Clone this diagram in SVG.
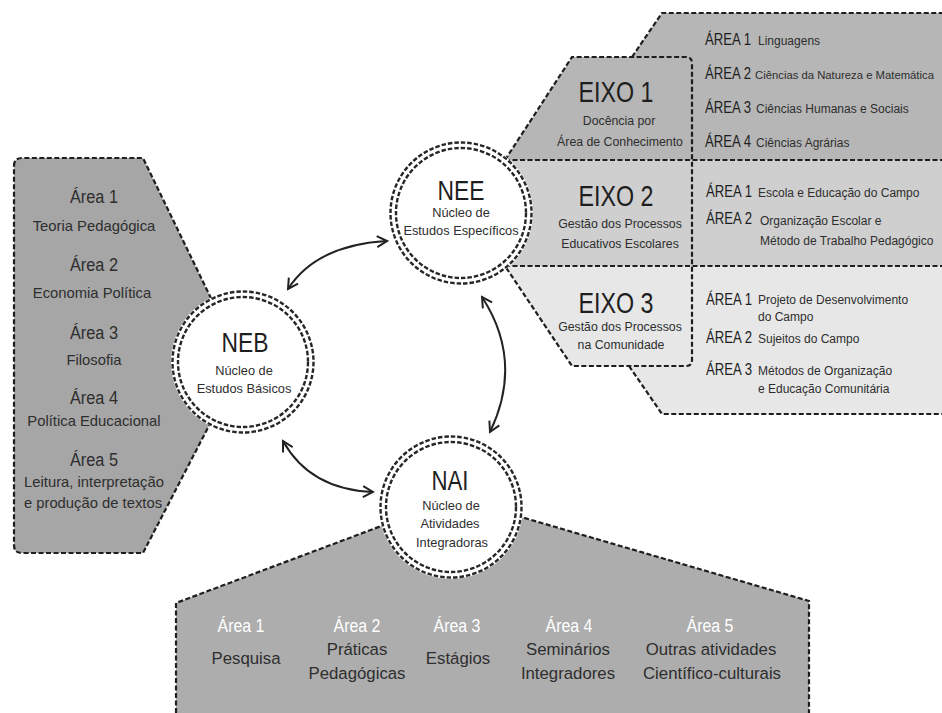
<svg xmlns="http://www.w3.org/2000/svg" width="942" height="713" viewBox="0 0 942 713">
<defs>
<style>
.dash{fill:none;stroke:#1e1e1e;stroke-width:2.2;stroke-dasharray:5 2.5}
.ring{fill:none;stroke:#262626;stroke-width:2.4;stroke-dasharray:4.5 2}
text{font-family:'Liberation Sans',Arial,sans-serif;fill:#2e2e2e}
.t{text-anchor:middle}
.h{font-size:18px}
.s{font-size:14.8px}
.bt{font-size:28px;fill:#1e1e1e}
.bs{font-size:12.8px}
.ex{font-size:30px;fill:#1e1e1e}
.es{font-size:12.3px}
.ar{font-size:16px;fill:#1e1e1e}
.ds{font-size:12px}
.w{fill:#ffffff}
.b{font-size:16.8px}
.arrow{fill:none;stroke:#222;stroke-width:2}
</style>
<marker id="ah" viewBox="0 0 14 14" refX="12" refY="7" markerWidth="14" markerHeight="14" markerUnits="userSpaceOnUse" orient="auto-start-reverse"><path d="M2,1.5 L12,7 L2,12.5" fill="none" stroke="#222" stroke-width="2"/></marker>
</defs>
<rect width="942" height="713" fill="#ffffff"/>

<g id="panel-neb">
<path d="M14,166 Q14,158 22,158 L143,158 L242,362 L143,553 L22,553 Q14,553 14,545 Z" fill="#a6a6a6"/>
<path class="dash" d="M14,166 Q14,158 22,158 L143,158 L242,362 L143,553 L22,553 Q14,553 14,545 Z"/>
<text class="t h" x="94" y="203" textLength="48" lengthAdjust="spacingAndGlyphs">Área 1</text>
<text class="t s" x="94" y="231">Teoria Pedagógica</text>
<text class="t h" x="94" y="271" textLength="48" lengthAdjust="spacingAndGlyphs">Área 2</text>
<text class="t s" x="92" y="298">Economia Política</text>
<text class="t h" x="94" y="339" textLength="48" lengthAdjust="spacingAndGlyphs">Área 3</text>
<text class="t s" x="94" y="365">Filosofia</text>
<text class="t h" x="94" y="404" textLength="48" lengthAdjust="spacingAndGlyphs">Área 4</text>
<text class="t s" x="94" y="426">Política Educacional</text>
<text class="t h" x="94" y="466" textLength="48" lengthAdjust="spacingAndGlyphs">Área 5</text>
<text class="t s" x="94" y="487">Leitura, interpretação</text>
<text class="t s" x="93" y="508">e produção de textos</text>
</g>

<g id="panel-nee">
<path d="M505,160 L572,57 L632,57 L662,13 L942,13 L942,160 Z" fill="#b6b6b6"/>
<rect x="470" y="160" width="472" height="106" fill="#cfcfcf"/>
<path d="M505,266 L942,266 L942,414 L662,414 L629,366 L572,366 Z" fill="#e7e7e7"/>
<path class="dash" d="M632,57 L662,13 L942,13"/>
<path class="dash" d="M505,160 L942,160"/>
<path class="dash" d="M505,266 L942,266"/>
<path class="dash" d="M629,366 L662,414 L942,414"/>
<path class="dash" d="M505,160 L572,57 L686,57 Q692,57 692,63 L692,360 Q692,366 686,366 L572,366 L505,266"/>

<text class="t ex" x="616" y="102" textLength="75" lengthAdjust="spacingAndGlyphs">EIXO 1</text>
<text class="t es" x="619" y="125">Docência por</text>
<text class="t es" x="620" y="146">Área de Conhecimento</text>
<text class="t ex" x="616" y="206" textLength="75" lengthAdjust="spacingAndGlyphs">EIXO 2</text>
<text class="t es" x="620" y="228">Gestão dos Processos</text>
<text class="t es" x="620" y="248">Educativos Escolares</text>
<text class="t ex" x="616" y="313" textLength="75" lengthAdjust="spacingAndGlyphs">EIXO 3</text>
<text class="t es" x="620" y="331">Gestão dos Processos</text>
<text class="t es" x="621" y="349">na Comunidade</text>

<text class="ar" x="705" y="45" textLength="46" lengthAdjust="spacingAndGlyphs">ÁREA 1</text>
<text class="ds" x="758" y="45">Linguagens</text>
<text class="ar" x="705" y="79" textLength="46" lengthAdjust="spacingAndGlyphs">ÁREA 2</text>
<text x="755" y="79" style="font-size:11.3px">Ciências da Natureza e Matemática</text>
<text class="ar" x="705" y="113" textLength="46" lengthAdjust="spacingAndGlyphs">ÁREA 3</text>
<text class="ds" x="756" y="113">Ciências Humanas e Sociais</text>
<text class="ar" x="705" y="147" textLength="46" lengthAdjust="spacingAndGlyphs">ÁREA 4</text>
<text class="ds" x="756" y="147">Ciências Agrárias</text>

<text class="ar" x="706" y="197" textLength="46" lengthAdjust="spacingAndGlyphs">ÁREA 1</text>
<text class="ds" x="758" y="197">Escola e Educação do Campo</text>
<text class="ar" x="706" y="224" textLength="46" lengthAdjust="spacingAndGlyphs">ÁREA 2</text>
<text class="ds" x="760" y="225">Organização Escolar e</text>
<text class="ds" x="760" y="245">Método de Trabalho Pedagógico</text>

<text class="ar" x="706" y="305" textLength="46" lengthAdjust="spacingAndGlyphs">ÁREA 1</text>
<text class="ds" x="758" y="304">Projeto de Desenvolvimento</text>
<text class="ds" x="758" y="321">do Campo</text>
<text class="ar" x="706" y="343" textLength="46" lengthAdjust="spacingAndGlyphs">ÁREA 2</text>
<text class="ds" x="758" y="343">Sujeitos do Campo</text>
<text class="ar" x="706" y="375" textLength="46" lengthAdjust="spacingAndGlyphs">ÁREA 3</text>
<text class="ds" x="758" y="375">Métodos de Organização</text>
<text class="ds" x="758" y="393">e Educação Comunitária</text>
</g>

<g id="panel-nai">
<path d="M176,713 L176,603 L456,498 L809,601 L809,713 Z" fill="#adadad"/>
<path class="dash" d="M176,713 L176,603 L456,498 L809,601 L809,713"/>
<text class="t h w" x="241" y="632" textLength="47" lengthAdjust="spacingAndGlyphs">Área 1</text>
<text class="t b" x="246" y="664">Pesquisa</text>
<text class="t h w" x="357" y="632" textLength="47" lengthAdjust="spacingAndGlyphs">Área 2</text>
<text class="t b" x="357" y="655">Práticas</text>
<text class="t b" x="357" y="679">Pedagógicas</text>
<text class="t h w" x="457" y="632" textLength="47" lengthAdjust="spacingAndGlyphs">Área 3</text>
<text class="t b" x="458" y="664">Estágios</text>
<text class="t h w" x="569" y="632" textLength="47" lengthAdjust="spacingAndGlyphs">Área 4</text>
<text class="t b" x="568" y="655">Seminários</text>
<text class="t b" x="568" y="679">Integradores</text>
<text class="t h w" x="710" y="632" textLength="47" lengthAdjust="spacingAndGlyphs">Área 5</text>
<text class="t b" x="711" y="655">Outras atividades</text>
<text class="t b" x="712" y="679">Científico-culturais</text>
</g>

<g id="connectors">
<path class="arrow" d="M288,289 Q316.5,245 387,241" marker-start="url(#ah)" marker-end="url(#ah)"/>
<path class="arrow" d="M482,297 Q524,361.5 490,432" marker-start="url(#ah)" marker-end="url(#ah)"/>
<path class="arrow" d="M283,441 Q310,489.5 373,492" marker-start="url(#ah)" marker-end="url(#ah)"/>
</g>

<g id="node-neb">
<circle cx="243" cy="362" r="72" fill="#ffffff"/>
<circle class="ring" cx="243" cy="362" r="70.5"/>
<circle class="ring" cx="243" cy="362" r="65"/>
<text class="t bt" x="245" y="352" textLength="47" lengthAdjust="spacingAndGlyphs">NEB</text>
<text class="t bs" x="244" y="375">Núcleo de</text>
<text class="t bs" x="244" y="393">Estudos Básicos</text>
</g>

<g id="node-nee">
<circle cx="461" cy="213" r="72" fill="#ffffff"/>
<circle class="ring" cx="461" cy="213" r="70.5"/>
<circle class="ring" cx="461" cy="213" r="65"/>
<text class="t bt" x="461" y="200" textLength="47" lengthAdjust="spacingAndGlyphs">NEE</text>
<text class="t bs" x="461" y="217">Núcleo de</text>
<text class="t bs" x="461" y="235">Estudos Específicos</text>
</g>

<g id="node-nai">
<circle cx="451" cy="507" r="72" fill="#ffffff"/>
<circle class="ring" cx="451" cy="507" r="70.5"/>
<circle class="ring" cx="451" cy="507" r="65"/>
<text class="t bt" x="450" y="490" textLength="37" lengthAdjust="spacingAndGlyphs">NAI</text>
<text class="t bs" x="451" y="510">Núcleo de</text>
<text class="t bs" x="450" y="528">Atividades</text>
<text class="t bs" x="452" y="547">Integradoras</text>
</g>
</svg>
